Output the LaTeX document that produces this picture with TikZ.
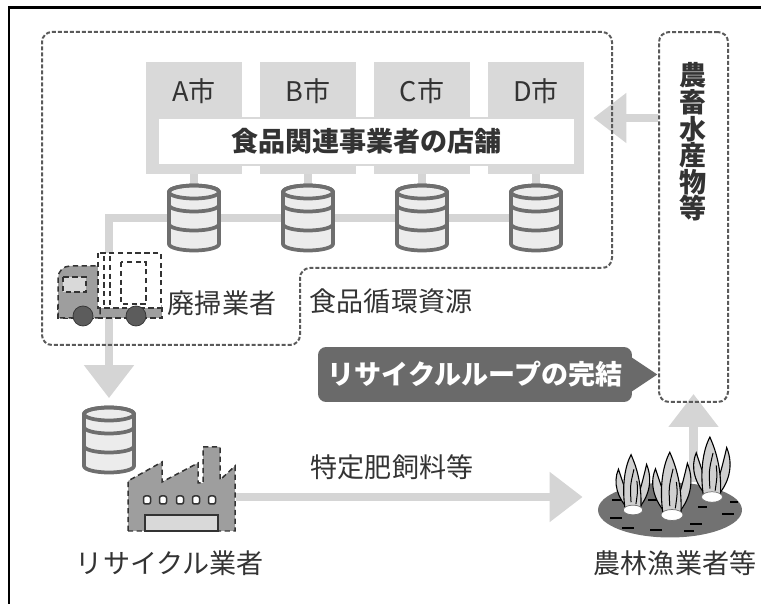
\documentclass[tikz,border=0pt]{standalone}
\usepackage{fontspec}
\newfontfamily\jp{Noto Sans CJK JP}
\usetikzlibrary{arrows.meta,shapes.geometric,backgrounds}

\definecolor{ink}{HTML}{333333}
\definecolor{blockgray}{HTML}{D9D9D9}
\definecolor{feedgray}{HTML}{D5D5D5}
\definecolor{dashgray}{HTML}{5A5A5A}
\definecolor{drumline}{HTML}{6E6E6E}
\definecolor{drumfill}{HTML}{ECECEC}
\definecolor{bodygray}{HTML}{9E9E9E}
\definecolor{wheelgray}{HTML}{5C5C5C}
\definecolor{bannergray}{HTML}{6A6A6A}
\definecolor{soilgray}{HTML}{727272}
\definecolor{leafgray}{HTML}{D0D0D0}

\begin{document}
\begin{tikzpicture}[x=0.02cm, y=-0.02cm,
  every node/.style={font=\jp\fontsize{15.4}{18}\selectfont, text=ink},
  city/.style={fill=blockgray, minimum width=1.92cm, text height=0.8cm, text depth=1.44cm, inner sep=0pt},
  shop/.style={fill=white, draw=blockgray, line width=0.04cm, minimum width=8.34cm, minimum height=0.94cm,
    font=\jp\bfseries\fontsize{15.4}{18}\selectfont},
  drum/.style={minimum width=1.2cm, minimum height=1.44cm, inner sep=0pt,
    path picture={
      \begin{scope}[shift={(path picture bounding box.center)}, draw=drumline, line width=0.075cm]
        \filldraw[fill=drumfill] (-25,-26) -- (-25,26) arc[start angle=180, end angle=0, x radius=25, y radius=6.5]
          -- (25,-26) arc[start angle=0, end angle=-180, x radius=25, y radius=6.5] -- cycle;
        \draw (0,-26) ellipse[x radius=25, y radius=6.5];
        \draw (-25,-13) arc[start angle=180, end angle=0, x radius=25, y radius=6.5];
        \draw (-25,6) arc[start angle=180, end angle=0, x radius=25, y radius=6.5];
      \end{scope}}},
  dashbox/.style={draw=dashgray, line width=0.04cm, dash pattern=on 0.08cm off 0.04cm, rounded corners=0.2cm},
  banner/.style={fill=bannergray, rounded corners=0.16cm, minimum width=6.28cm, minimum height=1.1cm,
    text=white, font=\jp\bfseries\fontsize{15.4}{18}\selectfont},
  soil/.style={ellipse, fill=soilgray, minimum width=2.88cm, minimum height=1.1cm, inner sep=0pt},
  feed/.style={draw=feedgray, line width=0.17cm},
  bigarrow/.style={feed, -{Triangle[length=0.66cm, width=0.96cm]}},
  sketch/.style={draw=ink, line width=0.03cm, densely dashed},
  leaf/.style={draw=black, line width=0.022cm, fill=leafgray},
  plant/.pic={
    \filldraw[leaf] (-4,0) .. controls (-16,-12) and (-21,-28) .. (-15,-42) .. controls (-11,-30) and (-6,-14) .. (0,0) -- cycle;
    \filldraw[leaf] (4,0) .. controls (16,-12) and (21,-30) .. (14,-47) .. controls (10,-30) and (6,-14) .. (0,0) -- cycle;
    \filldraw[leaf] (-8,0) .. controls (-12,-25) and (-8,-46) .. (-2,-57) .. controls (1,-50) and (10,-30) .. (8,0) -- cycle;
    \draw[black, line width=0.02cm] (-2,-8) .. controls (-3,-25) .. (1,-42) (3,-6) .. controls (5,-20) .. (4,-30);
    \filldraw[draw=soilgray, fill=white] (0,0) ellipse[x radius=10, y radius=5];
  }
]
\useasboundingbox (0,0) rectangle (761,604);
\draw[line width=0.06cm] (9,604) -- (9,8) -- (761,8);

% cities and the shop row
\node[city] (cityA) at (194,118) {A市};
\node[city] (cityB) at (308,118) {B市};
\node[city] (cityC) at (422,118) {C市};
\node[city] (cityD) at (536,118) {D市};
\node[shop] (shop) at (366.5,141.5) {食品関連事業者の店舗};

\foreach \c in {A,B,C,D}
  \node[drum] (dr\c) at (city\c |- 0,218) {};
\node[drum] (drR) at (109,440) {};

% area of the food loop
\draw[dashbox] (42,32) -- (612,32) -- (612,268) -- (300,268) -- (300,345) -- (42,345) -- cycle;
\node[dashbox, minimum width=1.38cm, minimum height=7.4cm] (produce) at (693.5,217) {};
\node[font=\jp\bfseries\fontsize{15.4}{15.1}\selectfont, align=center] (goods) at (693.5,142) {農\\畜\\水\\産\\物\\等};

\node (hauler) at (222,303) {廃掃業者};
\node (resource) at (391,301) {食品循環資源};
\node[banner] (loop) at (475,374.5) {リサイクルループの完結};
\fill[bannergray] (loop.east) ++(-2,-18) -- ++(27,18) -- ++(-27,18) -- cycle;
\node (fodder) at (392,467) {特定肥飼料等};
\node (recycler) at (170,563) {リサイクル業者};
\node (farmer) at (675,563) {農林漁業者等};
\node[soil] (farm) at (670,510) {};
\coordinate (factory) at (236,497);

% truck
\filldraw[sketch, fill=bodygray] (58,305) rectangle (162,318);
\filldraw[sketch, fill=bodygray] (58,318) -- (58,278) arc[start angle=180, end angle=270, radius=12] -- (100,266) -- (100,318) -- cycle;
\filldraw[sketch, fill=blockgray] (63,277) rectangle (86,292);
\filldraw[sketch, fill=white] (98,253) rectangle (161,308);
\draw[sketch] (104,256) -- (104,306) (110,256) -- (110,306);
\draw[sketch] (121,262) rectangle (146,304);
\filldraw[draw=ink, fill=wheelgray] (83,316) circle[radius=10] (136,316) circle[radius=10];

% factory
\filldraw[sketch, fill=bodygray] (128,531) -- (128,481) -- (162,462) -- (162,482) -- (198,463) -- (198,483)
  -- (203,483) -- (203,447) -- (220,447) -- (220,480) -- (235,466) -- (235,531) -- cycle;
\foreach \x in {147,163,180,196,212}
  \filldraw[draw=ink, line width=0.03cm, fill=white, rounded corners=0.04cm] (\x-3.5,496) rectangle (\x+3.5,504);
\filldraw[draw=ink, line width=0.03cm, fill=blockgray] (145,515) rectangle (218,531);

% field
\foreach \a/\b/\l in {612/500/10, 610/518/12, 622/528/12, 648/500/9, 650/530/12, 690/524/12, 698/507/9, 722/514/12, 730/502/8, 684/531/10}
  \draw[black, line width=0.035cm] (\a,\b) -- ++(\l,0);
\pic[scale=0.97] at (633,510) {plant};
\pic[scale=1.1] at (672,515) {plant};
\pic[scale=1.05] at (712,497) {plant};

\begin{scope}[on background layer]
  \foreach \c in {A,B,C,D}
    \draw[feed] (city\c.center) -- (dr\c.center);
  \draw[bigarrow, shorten >=0.11cm] (drD.center) -| (drR.north);
  \draw[bigarrow, shorten >=0.18cm] (produce.west |- cityD) -- (cityD.east);
  \draw[bigarrow, shorten >=-0.18cm] (farm.north -| produce) -- (produce.south);
  \draw[bigarrow, shorten >=0.3cm] (factory) -- (factory -| farm.west);
\end{scope}

\end{tikzpicture}
\end{document}
